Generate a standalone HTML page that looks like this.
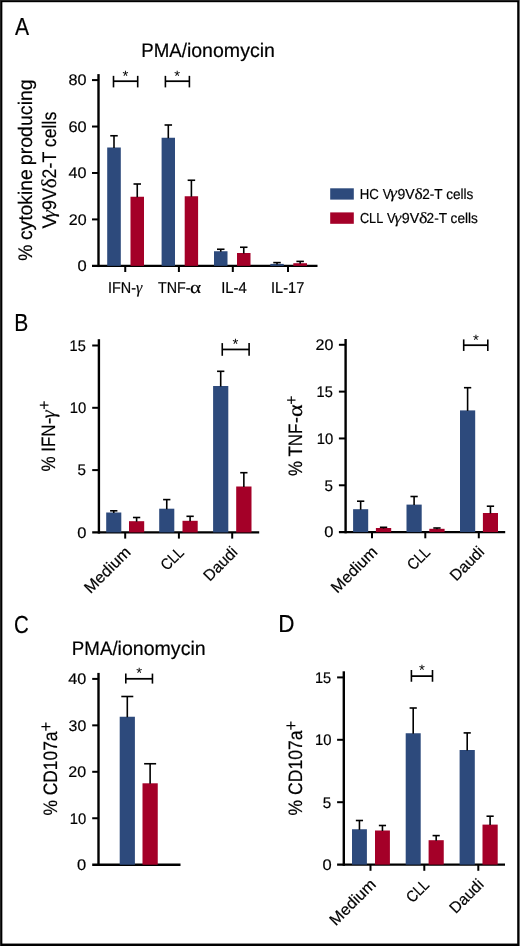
<!DOCTYPE html>
<html><head><meta charset="utf-8"><title>Figure</title>
<style>
html,body{margin:0;padding:0;background:#fff;}
body{width:520px;height:946px;overflow:hidden;position:relative;font-family:"Liberation Sans", sans-serif;}
svg{position:absolute;left:0;top:0;will-change:transform;text-rendering:geometricPrecision;}
svg text{font-family:"Liberation Sans", sans-serif;fill:#000;stroke:#000;stroke-width:0.2px;} svg text.thin{stroke:none;}
</style></head><body>
<svg width="520" height="946" viewBox="0 0 520 946">
<text x="14.96" y="34.60" font-size="24.6" textLength="14.08" lengthAdjust="spacingAndGlyphs" >A</text>
<text x="141.17" y="56.90" font-size="19.6" textLength="45.73" lengthAdjust="spacingAndGlyphs" >PMA/</text>
<text x="186.89" y="56.90" font-size="19.6" textLength="88.08" lengthAdjust="spacingAndGlyphs" >ionomycin</text>
<line x1="98.50" y1="74.10" x2="98.50" y2="267.05" stroke="#000" stroke-width="2.4"/>
<line x1="92.00" y1="265.85" x2="317.50" y2="265.85" stroke="#000" stroke-width="2.4"/>
<line x1="92.00" y1="80.09" x2="98.50" y2="80.09" stroke="#000" stroke-width="2"/>
<text x="68.60" y="85.44" font-size="15.4" textLength="18.04" lengthAdjust="spacingAndGlyphs" >80</text>
<line x1="92.00" y1="126.53" x2="98.50" y2="126.53" stroke="#000" stroke-width="2"/>
<text x="68.47" y="131.88" font-size="15.4" textLength="18.17" lengthAdjust="spacingAndGlyphs" >60</text>
<line x1="92.00" y1="172.97" x2="98.50" y2="172.97" stroke="#000" stroke-width="2"/>
<text x="68.63" y="178.32" font-size="15.4" textLength="18.00" lengthAdjust="spacingAndGlyphs" >40</text>
<line x1="92.00" y1="219.41" x2="98.50" y2="219.41" stroke="#000" stroke-width="2"/>
<text x="68.79" y="224.76" font-size="15.4" textLength="17.83" lengthAdjust="spacingAndGlyphs" >20</text>
<text x="77.45" y="271.20" font-size="15.4" textLength="9.19" lengthAdjust="spacingAndGlyphs" >0</text>
<rect x="107.20" y="147.50" width="13.60" height="118.35" fill="#2d4a7c"/>
<line x1="114.00" y1="148.00" x2="114.00" y2="135.75" stroke="#000" stroke-width="1.6"/>
<line x1="110.25" y1="135.75" x2="117.75" y2="135.75" stroke="#000" stroke-width="1.6"/>
<rect x="130.50" y="196.75" width="13.50" height="69.10" fill="#a40028"/>
<line x1="137.25" y1="197.25" x2="137.25" y2="184.00" stroke="#000" stroke-width="1.6"/>
<line x1="133.50" y1="184.00" x2="141.00" y2="184.00" stroke="#000" stroke-width="1.6"/>
<rect x="161.60" y="137.75" width="13.40" height="128.10" fill="#2d4a7c"/>
<line x1="168.30" y1="138.25" x2="168.30" y2="125.00" stroke="#000" stroke-width="1.6"/>
<line x1="164.55" y1="125.00" x2="172.05" y2="125.00" stroke="#000" stroke-width="1.6"/>
<rect x="184.70" y="196.25" width="13.40" height="69.60" fill="#a40028"/>
<line x1="191.40" y1="196.75" x2="191.40" y2="180.25" stroke="#000" stroke-width="1.6"/>
<line x1="187.65" y1="180.25" x2="195.15" y2="180.25" stroke="#000" stroke-width="1.6"/>
<rect x="214.00" y="251.25" width="13.50" height="14.60" fill="#2d4a7c"/>
<line x1="220.75" y1="251.75" x2="220.75" y2="249.25" stroke="#000" stroke-width="1.6"/>
<line x1="217.00" y1="249.25" x2="224.50" y2="249.25" stroke="#000" stroke-width="1.6"/>
<rect x="237.00" y="253.00" width="13.50" height="12.85" fill="#a40028"/>
<line x1="243.75" y1="253.50" x2="243.75" y2="247.25" stroke="#000" stroke-width="1.6"/>
<line x1="240.00" y1="247.25" x2="247.50" y2="247.25" stroke="#000" stroke-width="1.6"/>
<rect x="270.30" y="263.90" width="13.45" height="1.95" fill="#2d4a7c"/>
<line x1="277.02" y1="264.40" x2="277.02" y2="262.60" stroke="#000" stroke-width="1.6"/>
<line x1="273.27" y1="262.60" x2="280.77" y2="262.60" stroke="#000" stroke-width="1.6"/>
<rect x="293.30" y="263.20" width="13.70" height="2.65" fill="#a40028"/>
<line x1="300.15" y1="263.70" x2="300.15" y2="261.40" stroke="#000" stroke-width="1.6"/>
<line x1="296.40" y1="261.40" x2="303.90" y2="261.40" stroke="#000" stroke-width="1.6"/>
<line x1="125.25" y1="265.85" x2="125.25" y2="272.00" stroke="#000" stroke-width="2"/>
<line x1="178.90" y1="265.85" x2="178.90" y2="272.00" stroke="#000" stroke-width="2"/>
<line x1="232.80" y1="265.85" x2="232.80" y2="272.00" stroke="#000" stroke-width="2"/>
<line x1="288.00" y1="265.85" x2="288.00" y2="272.00" stroke="#000" stroke-width="2"/>
<text x="108.07" y="293.00" font-size="15.8" textLength="27.97" lengthAdjust="spacingAndGlyphs" >IFN-</text>
<text x="136.11" y="292.92" font-size="16.82" textLength="6.24" lengthAdjust="spacingAndGlyphs" ><tspan font-family='Liberation Serif' font-style='italic'>γ</tspan></text>
<text x="157.98" y="293.00" font-size="15.8" textLength="32.45" lengthAdjust="spacingAndGlyphs" >TNF-</text>
<text x="190.09" y="293.03" font-size="17.24" textLength="11.08" lengthAdjust="spacingAndGlyphs" ><tspan font-family='Liberation Serif'>α</tspan></text>
<text x="221.23" y="293.00" font-size="15.8" textLength="25.61" lengthAdjust="spacingAndGlyphs" >IL-4</text>
<text x="271.05" y="293.00" font-size="15.8" textLength="33.28" lengthAdjust="spacingAndGlyphs" >IL-17</text>
<line x1="113.50" y1="81.20" x2="137.70" y2="81.20" stroke="#000" stroke-width="1.75"/>
<line x1="113.50" y1="75.85" x2="113.50" y2="87.40" stroke="#000" stroke-width="1.6"/>
<line x1="137.70" y1="75.85" x2="137.70" y2="87.40" stroke="#000" stroke-width="1.6"/>
<text x="125.50" y="81.32" font-size="15" text-anchor="middle" class="thin">*</text>
<line x1="165.40" y1="81.20" x2="189.40" y2="81.20" stroke="#000" stroke-width="1.75"/>
<line x1="165.40" y1="75.85" x2="165.40" y2="87.40" stroke="#000" stroke-width="1.6"/>
<line x1="189.40" y1="75.85" x2="189.40" y2="87.40" stroke="#000" stroke-width="1.6"/>
<text x="177.10" y="81.32" font-size="15" text-anchor="middle" class="thin">*</text>
<g transform="rotate(-90)">
<text x="-260.85" y="32.10" font-size="19.6" textLength="16.09" lengthAdjust="spacingAndGlyphs" >%</text>
<text x="-240.12" y="32.10" font-size="19.6" textLength="70.98" lengthAdjust="spacingAndGlyphs" >cytokine</text>
<text x="-165.26" y="32.10" font-size="19.6" textLength="86.02" lengthAdjust="spacingAndGlyphs" >producing</text>
<text x="-228.48" y="56.00" font-size="19.6" textLength="12.62" lengthAdjust="spacingAndGlyphs" >V</text>
<text x="-217.96" y="55.38" font-size="18.9" textLength="7.92" lengthAdjust="spacingAndGlyphs" ><tspan font-family='Liberation Serif' font-style='italic'>γ</tspan></text>
<text x="-210.04" y="56.00" font-size="19.6" textLength="21.92" lengthAdjust="spacingAndGlyphs" >9V</text>
<text x="-188.20" y="55.99" font-size="21.17" textLength="10.00" lengthAdjust="spacingAndGlyphs" ><tspan font-family='Liberation Serif'>δ</tspan></text>
<text x="-178.39" y="56.00" font-size="19.6" textLength="66.73" lengthAdjust="spacingAndGlyphs" >2-T cells</text>
</g>
<rect x="330.20" y="188.30" width="23.60" height="11.30" fill="#2d4a7c"/>
<rect x="330.20" y="212.40" width="23.60" height="11.40" fill="#a40028"/>
<text x="359.82" y="198.60" font-size="14.4" textLength="19.09" lengthAdjust="spacingAndGlyphs" >HC</text>
<text x="382.74" y="198.60" font-size="14.4" textLength="8.51" lengthAdjust="spacingAndGlyphs" >V</text>
<text x="389.98" y="198.27" font-size="15.63" textLength="6.93" lengthAdjust="spacingAndGlyphs" ><tspan font-family='Liberation Serif' font-style='italic'>γ</tspan></text>
<text x="397.54" y="198.60" font-size="14.4" textLength="17.12" lengthAdjust="spacingAndGlyphs" >9V</text>
<text x="414.54" y="198.65" font-size="15.53" textLength="8.21" lengthAdjust="spacingAndGlyphs" ><tspan font-family='Liberation Serif'>δ</tspan></text>
<text x="422.22" y="198.60" font-size="14.4" textLength="51.17" lengthAdjust="spacingAndGlyphs" >2-T cells</text>
<text x="359.96" y="222.90" font-size="14.4" textLength="23.27" lengthAdjust="spacingAndGlyphs" >CLL</text>
<text x="387.04" y="222.90" font-size="14.4" textLength="8.61" lengthAdjust="spacingAndGlyphs" >V</text>
<text x="394.59" y="222.57" font-size="15.63" textLength="6.73" lengthAdjust="spacingAndGlyphs" ><tspan font-family='Liberation Serif' font-style='italic'>γ</tspan></text>
<text x="401.83" y="222.90" font-size="14.4" textLength="17.43" lengthAdjust="spacingAndGlyphs" >9V</text>
<text x="418.93" y="222.95" font-size="15.53" textLength="8.45" lengthAdjust="spacingAndGlyphs" ><tspan font-family='Liberation Serif'>δ</tspan></text>
<text x="426.62" y="222.90" font-size="14.4" textLength="51.27" lengthAdjust="spacingAndGlyphs" >2-T cells</text>
<text x="14.17" y="331.00" font-size="24.6" textLength="14.04" lengthAdjust="spacingAndGlyphs" >B</text>
<line x1="98.90" y1="339.20" x2="98.90" y2="533.60" stroke="#000" stroke-width="2.4"/>
<line x1="92.20" y1="532.40" x2="259.20" y2="532.40" stroke="#000" stroke-width="2.4"/>
<line x1="92.20" y1="345.50" x2="98.90" y2="345.50" stroke="#000" stroke-width="2"/>
<text x="69.59" y="350.85" font-size="15.4" textLength="16.22" lengthAdjust="spacingAndGlyphs" >15</text>
<line x1="92.20" y1="407.80" x2="98.90" y2="407.80" stroke="#000" stroke-width="2"/>
<text x="69.77" y="413.15" font-size="15.4" textLength="16.51" lengthAdjust="spacingAndGlyphs" >10</text>
<line x1="92.20" y1="470.10" x2="98.90" y2="470.10" stroke="#000" stroke-width="2"/>
<text x="77.39" y="475.45" font-size="15.4" textLength="8.45" lengthAdjust="spacingAndGlyphs" >5</text>
<text x="77.15" y="537.75" font-size="15.4" textLength="9.19" lengthAdjust="spacingAndGlyphs" >0</text>
<rect x="106.20" y="512.50" width="15.10" height="19.90" fill="#2d4a7c"/>
<line x1="113.75" y1="513.00" x2="113.75" y2="510.80" stroke="#000" stroke-width="1.6"/>
<line x1="110.10" y1="510.80" x2="117.40" y2="510.80" stroke="#000" stroke-width="1.6"/>
<rect x="129.00" y="521.20" width="15.20" height="11.20" fill="#a40028"/>
<line x1="136.60" y1="521.70" x2="136.60" y2="517.50" stroke="#000" stroke-width="1.6"/>
<line x1="132.95" y1="517.50" x2="140.25" y2="517.50" stroke="#000" stroke-width="1.6"/>
<rect x="159.20" y="508.70" width="15.10" height="23.70" fill="#2d4a7c"/>
<line x1="166.75" y1="509.20" x2="166.75" y2="499.60" stroke="#000" stroke-width="1.6"/>
<line x1="163.10" y1="499.60" x2="170.40" y2="499.60" stroke="#000" stroke-width="1.6"/>
<rect x="182.50" y="520.80" width="15.20" height="11.60" fill="#a40028"/>
<line x1="190.10" y1="521.30" x2="190.10" y2="516.30" stroke="#000" stroke-width="1.6"/>
<line x1="186.45" y1="516.30" x2="193.75" y2="516.30" stroke="#000" stroke-width="1.6"/>
<rect x="213.10" y="386.00" width="15.20" height="146.40" fill="#2d4a7c"/>
<line x1="220.70" y1="386.50" x2="220.70" y2="371.30" stroke="#000" stroke-width="1.6"/>
<line x1="217.05" y1="371.30" x2="224.35" y2="371.30" stroke="#000" stroke-width="1.6"/>
<rect x="236.20" y="486.50" width="15.30" height="45.90" fill="#a40028"/>
<line x1="243.85" y1="487.00" x2="243.85" y2="472.70" stroke="#000" stroke-width="1.6"/>
<line x1="240.20" y1="472.70" x2="247.50" y2="472.70" stroke="#000" stroke-width="1.6"/>
<line x1="125.20" y1="532.40" x2="125.20" y2="538.60" stroke="#000" stroke-width="2"/>
<line x1="178.90" y1="532.40" x2="178.90" y2="538.60" stroke="#000" stroke-width="2"/>
<line x1="232.20" y1="532.40" x2="232.20" y2="538.60" stroke="#000" stroke-width="2"/>
<line x1="222.25" y1="349.45" x2="249.10" y2="349.45" stroke="#000" stroke-width="1.75"/>
<line x1="222.25" y1="343.10" x2="222.25" y2="355.80" stroke="#000" stroke-width="1.6"/>
<line x1="249.10" y1="343.10" x2="249.10" y2="355.80" stroke="#000" stroke-width="1.6"/>
<text x="235.50" y="349.32" font-size="15" text-anchor="middle" class="thin">*</text>
<g transform="rotate(-90)">
<text x="-471.60" y="55.30" font-size="19.4" textLength="47.09" lengthAdjust="spacingAndGlyphs" >% IFN</text>
</g>
<g transform="rotate(-90)">
<text x="-409.63" y="50.40" font-size="17.679840319361276" textLength="9.38" lengthAdjust="spacingAndGlyphs" class="thin">+</text>
</g>
<g transform="rotate(-90)">
<text x="-424.19" y="55.30" font-size="19.6" textLength="6.68" lengthAdjust="spacingAndGlyphs" >-</text>
</g>
<g transform="rotate(-90)">
<text x="-418.16" y="55.36" font-size="20.39" textLength="7.92" lengthAdjust="spacingAndGlyphs" ><tspan font-family='Liberation Serif' font-style='italic'>γ</tspan></text>
</g>
<g transform="rotate(-45)">
<text x="-356.22" y="484.16" font-size="15.8" textLength="58.12" lengthAdjust="spacingAndGlyphs" >Medium</text>
</g>
<g transform="rotate(-45)">
<text x="-285.80" y="522.13" font-size="15.8" textLength="25.05" lengthAdjust="spacingAndGlyphs" >CLL</text>
</g>
<g transform="rotate(-45)">
<text x="-263.20" y="559.82" font-size="15.8" textLength="40.73" lengthAdjust="spacingAndGlyphs" >Daudi</text>
</g>
<line x1="345.60" y1="339.00" x2="345.60" y2="533.30" stroke="#000" stroke-width="2.4"/>
<line x1="338.90" y1="532.10" x2="505.20" y2="532.10" stroke="#000" stroke-width="2.4"/>
<line x1="338.90" y1="344.80" x2="345.60" y2="344.80" stroke="#000" stroke-width="2"/>
<text x="315.49" y="350.15" font-size="15.4" textLength="17.83" lengthAdjust="spacingAndGlyphs" >20</text>
<line x1="338.90" y1="391.62" x2="345.60" y2="391.62" stroke="#000" stroke-width="2"/>
<text x="316.59" y="396.98" font-size="15.4" textLength="16.22" lengthAdjust="spacingAndGlyphs" >15</text>
<line x1="338.90" y1="438.45" x2="345.60" y2="438.45" stroke="#000" stroke-width="2"/>
<text x="316.77" y="443.80" font-size="15.4" textLength="16.51" lengthAdjust="spacingAndGlyphs" >10</text>
<line x1="338.90" y1="485.28" x2="345.60" y2="485.28" stroke="#000" stroke-width="2"/>
<text x="324.39" y="490.63" font-size="15.4" textLength="8.45" lengthAdjust="spacingAndGlyphs" >5</text>
<text x="324.15" y="537.45" font-size="15.4" textLength="9.19" lengthAdjust="spacingAndGlyphs" >0</text>
<rect x="353.10" y="509.20" width="15.10" height="22.90" fill="#2d4a7c"/>
<line x1="360.65" y1="509.70" x2="360.65" y2="501.20" stroke="#000" stroke-width="1.6"/>
<line x1="357.00" y1="501.20" x2="364.30" y2="501.20" stroke="#000" stroke-width="1.6"/>
<rect x="375.90" y="528.00" width="15.30" height="4.10" fill="#a40028"/>
<line x1="383.55" y1="528.50" x2="383.55" y2="527.30" stroke="#000" stroke-width="1.6"/>
<line x1="379.90" y1="527.30" x2="387.20" y2="527.30" stroke="#000" stroke-width="1.6"/>
<rect x="406.50" y="504.60" width="15.20" height="27.50" fill="#2d4a7c"/>
<line x1="414.10" y1="505.10" x2="414.10" y2="496.50" stroke="#000" stroke-width="1.6"/>
<line x1="410.45" y1="496.50" x2="417.75" y2="496.50" stroke="#000" stroke-width="1.6"/>
<rect x="429.30" y="528.80" width="15.30" height="3.30" fill="#a40028"/>
<line x1="436.95" y1="529.30" x2="436.95" y2="528.00" stroke="#000" stroke-width="1.6"/>
<line x1="433.30" y1="528.00" x2="440.60" y2="528.00" stroke="#000" stroke-width="1.6"/>
<rect x="460.00" y="410.40" width="15.20" height="121.70" fill="#2d4a7c"/>
<line x1="467.60" y1="410.90" x2="467.60" y2="387.70" stroke="#000" stroke-width="1.6"/>
<line x1="463.95" y1="387.70" x2="471.25" y2="387.70" stroke="#000" stroke-width="1.6"/>
<rect x="482.90" y="513.00" width="15.10" height="19.10" fill="#a40028"/>
<line x1="490.45" y1="513.50" x2="490.45" y2="506.20" stroke="#000" stroke-width="1.6"/>
<line x1="486.80" y1="506.20" x2="494.10" y2="506.20" stroke="#000" stroke-width="1.6"/>
<line x1="372.00" y1="532.10" x2="372.00" y2="538.30" stroke="#000" stroke-width="2"/>
<line x1="425.30" y1="532.10" x2="425.30" y2="538.30" stroke="#000" stroke-width="2"/>
<line x1="478.80" y1="532.10" x2="478.80" y2="538.30" stroke="#000" stroke-width="2"/>
<line x1="463.70" y1="345.20" x2="487.80" y2="345.20" stroke="#000" stroke-width="1.75"/>
<line x1="463.70" y1="339.40" x2="463.70" y2="350.95" stroke="#000" stroke-width="1.6"/>
<line x1="487.80" y1="339.40" x2="487.80" y2="350.95" stroke="#000" stroke-width="1.6"/>
<text x="475.85" y="344.82" font-size="15" text-anchor="middle" class="thin">*</text>
<g transform="rotate(-90)">
<text x="-475.90" y="302.20" font-size="19.4" textLength="52.27" lengthAdjust="spacingAndGlyphs" >% TNF</text>
</g>
<g transform="rotate(-90)">
<text x="-404.63" y="297.11" font-size="17.16886227544917" textLength="9.38" lengthAdjust="spacingAndGlyphs" class="thin">+</text>
</g>
<g transform="rotate(-90)">
<text x="-423.08" y="302.20" font-size="19.6" textLength="5.87" lengthAdjust="spacingAndGlyphs" >-</text>
</g>
<g transform="rotate(-90)">
<text x="-416.92" y="302.30" font-size="20.56" textLength="12.66" lengthAdjust="spacingAndGlyphs" ><tspan font-family='Liberation Serif'>α</tspan></text>
</g>
<g transform="rotate(-45)">
<text x="-181.49" y="658.46" font-size="15.8" textLength="58.12" lengthAdjust="spacingAndGlyphs" >Medium</text>
</g>
<g transform="rotate(-45)">
<text x="-111.36" y="696.15" font-size="15.8" textLength="25.05" lengthAdjust="spacingAndGlyphs" >CLL</text>
</g>
<g transform="rotate(-45)">
<text x="-88.61" y="733.98" font-size="15.8" textLength="40.73" lengthAdjust="spacingAndGlyphs" >Daudi</text>
</g>
<text x="13.96" y="633.00" font-size="24.6" textLength="14.82" lengthAdjust="spacingAndGlyphs" >C</text>
<text x="71.87" y="655.00" font-size="19.6" textLength="45.73" lengthAdjust="spacingAndGlyphs" >PMA/</text>
<text x="117.59" y="655.00" font-size="19.6" textLength="88.08" lengthAdjust="spacingAndGlyphs" >ionomycin</text>
<line x1="98.50" y1="672.90" x2="98.50" y2="865.90" stroke="#000" stroke-width="2.4"/>
<line x1="92.20" y1="864.70" x2="180.50" y2="864.70" stroke="#000" stroke-width="2.4"/>
<line x1="92.20" y1="678.90" x2="98.50" y2="678.90" stroke="#000" stroke-width="2"/>
<text x="68.23" y="684.25" font-size="15.4" textLength="18.00" lengthAdjust="spacingAndGlyphs" >40</text>
<line x1="92.20" y1="725.35" x2="98.50" y2="725.35" stroke="#000" stroke-width="2"/>
<text x="68.60" y="730.70" font-size="15.4" textLength="17.62" lengthAdjust="spacingAndGlyphs" >30</text>
<line x1="92.20" y1="771.80" x2="98.50" y2="771.80" stroke="#000" stroke-width="2"/>
<text x="68.39" y="777.15" font-size="15.4" textLength="17.83" lengthAdjust="spacingAndGlyphs" >20</text>
<line x1="92.20" y1="818.25" x2="98.50" y2="818.25" stroke="#000" stroke-width="2"/>
<text x="69.67" y="823.60" font-size="15.4" textLength="16.51" lengthAdjust="spacingAndGlyphs" >10</text>
<text x="77.05" y="870.05" font-size="15.4" textLength="9.19" lengthAdjust="spacingAndGlyphs" >0</text>
<rect x="119.70" y="716.75" width="15.20" height="147.95" fill="#2d4a7c"/>
<line x1="127.30" y1="717.25" x2="127.30" y2="696.50" stroke="#000" stroke-width="1.6"/>
<line x1="121.30" y1="696.50" x2="133.30" y2="696.50" stroke="#000" stroke-width="1.6"/>
<rect x="142.50" y="783.30" width="15.25" height="81.40" fill="#a40028"/>
<line x1="150.12" y1="783.80" x2="150.12" y2="763.75" stroke="#000" stroke-width="1.6"/>
<line x1="144.12" y1="763.75" x2="156.12" y2="763.75" stroke="#000" stroke-width="1.6"/>
<line x1="125.80" y1="678.80" x2="152.45" y2="678.80" stroke="#000" stroke-width="1.75"/>
<line x1="125.80" y1="673.60" x2="125.80" y2="683.60" stroke="#000" stroke-width="1.6"/>
<line x1="152.45" y1="673.60" x2="152.45" y2="683.60" stroke="#000" stroke-width="1.6"/>
<text x="139.10" y="678.47" font-size="15" text-anchor="middle" class="thin">*</text>
<g transform="rotate(-90)">
<text x="-815.62" y="56.70" font-size="19.4" textLength="84.12" lengthAdjust="spacingAndGlyphs" >% CD107a</text>
</g>
<g transform="rotate(-90)">
<text x="-731.51" y="51.62" font-size="18.395209580838323" textLength="9.74" lengthAdjust="spacingAndGlyphs" class="thin">+</text>
</g>
<text x="278.16" y="632.40" font-size="24.6" textLength="16.22" lengthAdjust="spacingAndGlyphs" >D</text>
<line x1="343.80" y1="671.30" x2="343.80" y2="865.80" stroke="#000" stroke-width="2.4"/>
<line x1="337.10" y1="864.60" x2="505.00" y2="864.60" stroke="#000" stroke-width="2.4"/>
<line x1="337.10" y1="677.40" x2="343.80" y2="677.40" stroke="#000" stroke-width="2"/>
<text x="314.89" y="682.75" font-size="15.4" textLength="16.22" lengthAdjust="spacingAndGlyphs" >15</text>
<line x1="337.10" y1="739.80" x2="343.80" y2="739.80" stroke="#000" stroke-width="2"/>
<text x="315.07" y="745.15" font-size="15.4" textLength="16.51" lengthAdjust="spacingAndGlyphs" >10</text>
<line x1="337.10" y1="802.20" x2="343.80" y2="802.20" stroke="#000" stroke-width="2"/>
<text x="322.69" y="807.55" font-size="15.4" textLength="8.45" lengthAdjust="spacingAndGlyphs" >5</text>
<text x="322.45" y="869.95" font-size="15.4" textLength="9.19" lengthAdjust="spacingAndGlyphs" >0</text>
<rect x="352.00" y="829.25" width="14.90" height="35.35" fill="#2d4a7c"/>
<line x1="359.45" y1="829.75" x2="359.45" y2="820.50" stroke="#000" stroke-width="1.6"/>
<line x1="355.85" y1="820.50" x2="363.05" y2="820.50" stroke="#000" stroke-width="1.6"/>
<rect x="375.00" y="830.50" width="14.90" height="34.10" fill="#a40028"/>
<line x1="382.45" y1="831.00" x2="382.45" y2="825.50" stroke="#000" stroke-width="1.6"/>
<line x1="378.85" y1="825.50" x2="386.05" y2="825.50" stroke="#000" stroke-width="1.6"/>
<rect x="405.70" y="733.25" width="15.00" height="131.35" fill="#2d4a7c"/>
<line x1="413.20" y1="733.75" x2="413.20" y2="708.00" stroke="#000" stroke-width="1.6"/>
<line x1="409.60" y1="708.00" x2="416.80" y2="708.00" stroke="#000" stroke-width="1.6"/>
<rect x="428.60" y="840.20" width="15.15" height="24.40" fill="#a40028"/>
<line x1="436.18" y1="840.70" x2="436.18" y2="835.60" stroke="#000" stroke-width="1.6"/>
<line x1="432.57" y1="835.60" x2="439.78" y2="835.60" stroke="#000" stroke-width="1.6"/>
<rect x="459.60" y="750.00" width="15.20" height="114.60" fill="#2d4a7c"/>
<line x1="467.20" y1="750.50" x2="467.20" y2="732.90" stroke="#000" stroke-width="1.6"/>
<line x1="463.60" y1="732.90" x2="470.80" y2="732.90" stroke="#000" stroke-width="1.6"/>
<rect x="482.50" y="824.60" width="15.20" height="40.00" fill="#a40028"/>
<line x1="490.10" y1="825.10" x2="490.10" y2="816.20" stroke="#000" stroke-width="1.6"/>
<line x1="486.50" y1="816.20" x2="493.70" y2="816.20" stroke="#000" stroke-width="1.6"/>
<line x1="370.50" y1="864.60" x2="370.50" y2="870.80" stroke="#000" stroke-width="2"/>
<line x1="424.30" y1="864.60" x2="424.30" y2="870.80" stroke="#000" stroke-width="2"/>
<line x1="478.30" y1="864.60" x2="478.30" y2="870.80" stroke="#000" stroke-width="2"/>
<line x1="411.40" y1="676.10" x2="432.50" y2="676.10" stroke="#000" stroke-width="1.75"/>
<line x1="411.40" y1="670.00" x2="411.40" y2="681.75" stroke="#000" stroke-width="1.6"/>
<line x1="432.50" y1="670.00" x2="432.50" y2="681.75" stroke="#000" stroke-width="1.6"/>
<text x="422.00" y="675.47" font-size="15" text-anchor="middle" class="thin">*</text>
<g transform="rotate(-90)">
<text x="-815.43" y="302.00" font-size="19.4" textLength="84.83" lengthAdjust="spacingAndGlyphs" >% CD107a</text>
</g>
<g transform="rotate(-90)">
<text x="-730.61" y="296.92" font-size="18.395209580838323" textLength="9.74" lengthAdjust="spacingAndGlyphs" class="thin">+</text>
</g>
<g transform="rotate(-45)">
<text x="-417.66" y="892.51" font-size="15.8" textLength="58.12" lengthAdjust="spacingAndGlyphs" >Medium</text>
</g>
<g transform="rotate(-45)">
<text x="-347.18" y="930.55" font-size="15.8" textLength="25.05" lengthAdjust="spacingAndGlyphs" >CLL</text>
</g>
<g transform="rotate(-45)">
<text x="-324.08" y="968.74" font-size="15.8" textLength="40.73" lengthAdjust="spacingAndGlyphs" >Daudi</text>
</g>
<rect x="0.00" y="0.00" width="520.00" height="2.20" fill="#000"/>
<rect x="0.00" y="0.00" width="2.35" height="946.00" fill="#000"/>
<rect x="517.20" y="0.00" width="2.80" height="946.00" fill="#000"/>
<rect x="0.00" y="943.55" width="520.00" height="2.45" fill="#000"/>
<rect x="0.00" y="0.00" width="520.00" height="1.00" fill="#222"/>
<rect x="0.00" y="0.00" width="1.00" height="946.00" fill="#222"/>
<rect x="519.00" y="0.00" width="1.00" height="946.00" fill="#6e6e6e"/>
</svg>
</body></html>
